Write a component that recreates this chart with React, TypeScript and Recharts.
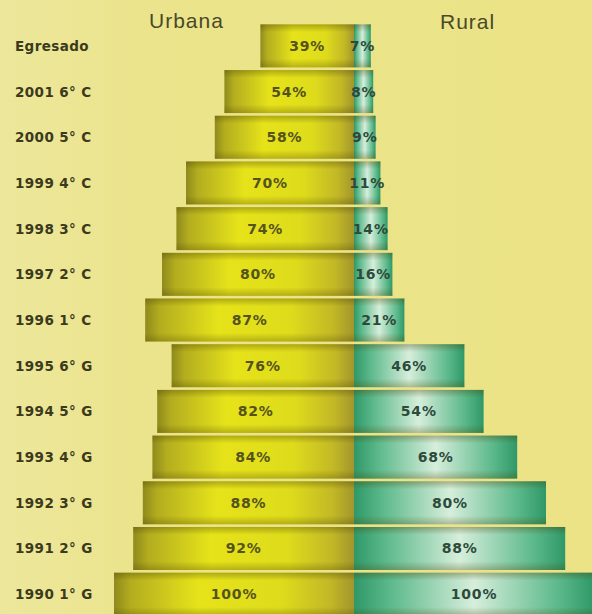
import { BarChart, Bar, XAxis, YAxis, LabelList } from "recharts";

const categories = [
  "Egresado",
  "2001 6° C",
  "2000 5° C",
  "1999 4° C",
  "1998 3° C",
  "1997 2° C",
  "1996 1° C",
  "1995 6° G",
  "1994 5° G",
  "1993 4° G",
  "1992 3° G",
  "1991 2° G",
  "1990 1° G",
];
const urbana = [39, 54, 58, 70, 74, 80, 87, 76, 82, 84, 88, 92, 100];
const rural = [7, 8, 9, 11, 14, 16, 21, 46, 54, 68, 80, 88, 100];

const data = categories.map((cat, i) => ({
  cat,
  urbana: -urbana[i],
  rural: rural[i],
}));

const pct = (v: any) => `${Math.abs(Number(v))}%`;
const labelFont = "DejaVu Sans, Verdana, sans-serif";

function CatTick(props: any) {
  const { y, payload } = props;
  return (
    <text
      x={15}
      y={y}
      dy={5}
      textAnchor="start"
      fontFamily={labelFont}
      fontWeight="bold"
      fontSize={13.5}
      letterSpacing={0.4}
      fill="#3b3a1c"
    >
      {payload.value}
    </text>
  );
}

function makeShape(fillId: string) {
  return (props: any) => {
    const { x, y, width, height } = props;
    const x0 = width < 0 ? x + width : x;
    const w = Math.abs(width);
    if (!w) return null;
    return (
      <g>
        <rect x={x0} y={y} width={w} height={height} fill={`url(#${fillId})`} />
        <rect x={x0} y={y} width={w} height={height} fill="url(#shadeV)" />
      </g>
    );
  };
}

export default function App() {
  return (
    <div
      style={{
        position: "fixed",
        left: 0,
        top: 0,
        width: 592,
        height: 614,
        overflow: "hidden",
        background: "linear-gradient(to right, #ede79c 0px, #ebe48c 140px, #ebe385 100%)",
      }}
    >
      <div
        style={{
          position: "absolute",
          left: 149,
          top: 9,
          fontFamily: "Liberation Sans, Arial, sans-serif",
          fontSize: 21,
          letterSpacing: 1,
          color: "#4a4928",
        }}
      >
        Urbana
      </div>
      <div
        style={{
          position: "absolute",
          left: 440,
          top: 10,
          fontFamily: "Liberation Sans, Arial, sans-serif",
          fontSize: 21,
          letterSpacing: 1,
          color: "#4a4928",
        }}
      >
        Rural
      </div>
      <div style={{ position: "absolute", left: 0, top: 0 }}>
        <BarChart
          width={600}
          height={620}
          data={data}
          layout="vertical"
          stackOffset="sign"
          barCategoryGap="3%"
          margin={{ top: 23, right: 6, bottom: 3, left: 0 }}
        >
          <defs>
            <linearGradient id="gradU" x1="0" y1="0" x2="1" y2="0">
              <stop offset="0%" stopColor="#8f8a1c" />
              <stop offset="7%" stopColor="#b3ad1f" />
              <stop offset="35%" stopColor="#e6e31a" />
              <stop offset="70%" stopColor="#dedb1c" />
              <stop offset="90%" stopColor="#c2b826" />
              <stop offset="100%" stopColor="#a2962c" />
            </linearGradient>
            <linearGradient id="gradR" x1="0" y1="0" x2="1" y2="0">
              <stop offset="0%" stopColor="#2f9868" />
              <stop offset="15%" stopColor="#5cb98b" />
              <stop offset="50%" stopColor="#d6eedb" />
              <stop offset="85%" stopColor="#5cb98b" />
              <stop offset="100%" stopColor="#2f9868" />
            </linearGradient>
            <linearGradient id="shadeV" x1="0" y1="0" x2="0" y2="1">
              <stop offset="0%" stopColor="#4a4000" stopOpacity={0.35} />
              <stop offset="18%" stopColor="#4a4000" stopOpacity={0} />
              <stop offset="80%" stopColor="#4a4000" stopOpacity={0} />
              <stop offset="100%" stopColor="#4a4000" stopOpacity={0.3} />
            </linearGradient>
          </defs>
          <XAxis type="number" domain={[-100, 100]} hide />
          <YAxis
            type="category"
            dataKey="cat"
            width={114}
            axisLine={false}
            tickLine={false}
            tick={<CatTick />}
            interval={0}
          />
          <Bar
            dataKey="urbana"
            stackId="s"
            shape={makeShape("gradU")}
            isAnimationActive={false}
          >
            <LabelList
              dataKey="urbana"
              position="center"
              formatter={pct}
              fill="#55531c"
              fontSize={14}
              fontWeight="bold"
              letterSpacing={0.8}
              fontFamily={labelFont}
            />
          </Bar>
          <Bar
            dataKey="rural"
            stackId="s"
            shape={makeShape("gradR")}
            isAnimationActive={false}
          >
            <LabelList
              dataKey="rural"
              position="center"
              formatter={pct}
              fill="#2d4a3a"
              fontSize={14}
              fontWeight="bold"
              letterSpacing={0.8}
              fontFamily={labelFont}
            />
          </Bar>
        </BarChart>
      </div>
    </div>
  );
}
